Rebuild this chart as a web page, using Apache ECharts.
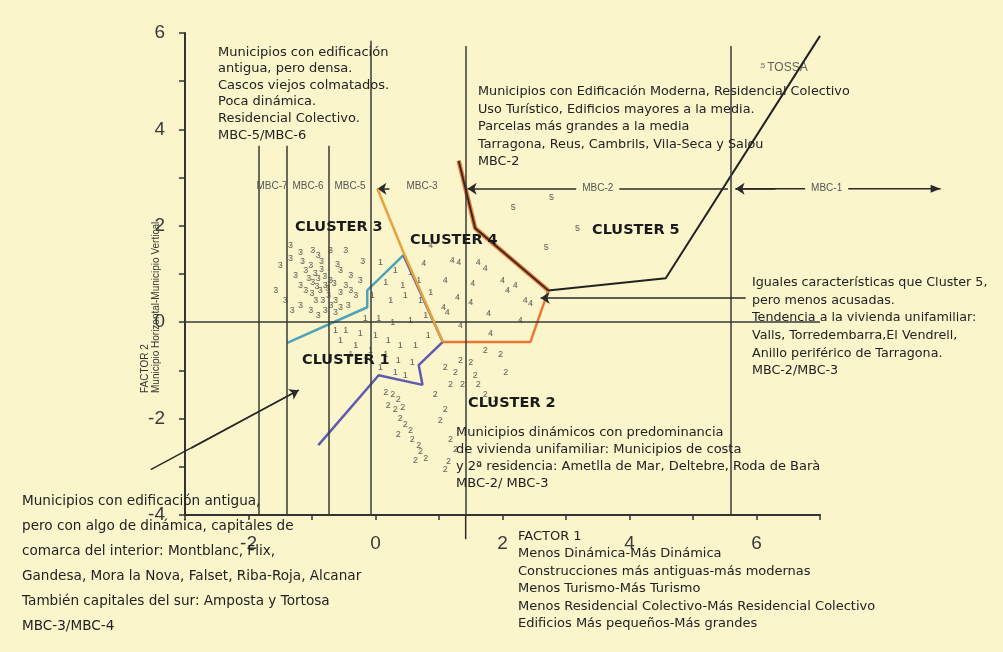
<!DOCTYPE html>
<html><head><meta charset="utf-8">
<script src="https://cdn.jsdelivr.net/npm/echarts@6/dist/echarts.min.js"></script>
<style>html,body{margin:0;padding:0;background:#FBF5CC}#c{width:1003px;height:652px}</style>
</head><body><div id="c"></div><script>
// ---------- data ----------
const xTickLabels = ['-2', '0', '2', '4', '6'];
const yTickLabels = ['-4', '-2', '0', '2', '4', '6'];

const cluster3Pts = [[-1.34,1.33],[-1.18,1.45],[-0.99,1.49],[-0.90,1.39],[-0.71,1.49],[-0.47,1.49],[-1.26,0.97],[-1.10,1.08],[-1.02,1.18],[-1.18,0.77],[-1.10,0.66],[-0.99,0.83],[-0.90,0.91],[-0.87,0.66],[-0.79,0.77],[-0.71,0.87],[-0.94,0.46],[-0.83,0.46],[-0.74,0.56],[-0.63,0.46],[-0.55,0.62],[-0.47,0.77],[-0.39,0.66],[-0.31,0.56],[-1.42,0.46],[-1.31,0.25],[-1.18,0.35],[-1.02,0.25],[-0.90,0.14],[-0.79,0.25],[-0.63,0.21],[-0.43,0.35],[-0.55,1.08],[-0.39,0.97],[-0.24,0.87],[-1.34,1.59],[-1.50,1.18],[-1.57,0.66],[-0.95,1.0],[-0.85,1.1],[-0.8,0.95],[-1.05,0.9],[-0.92,0.75],[-0.75,0.7],[-1.0,0.6],[-0.65,0.8],[-0.6,1.2],[-0.2,1.25],[-0.85,1.25],[-1.15,1.25],[-0.7,0.35],[-0.55,0.3]];
const cluster1Pts = [[0.08,1.24],[0.31,1.08],[0.55,1.04],[0.16,0.83],[0.43,0.77],[0.68,0.87],[-0.05,0.56],[0.24,0.46],[0.47,0.56],[0.71,0.46],[0.87,0.62],[-0.16,0.08],[0.05,0.08],[0.27,0.0],[0.55,0.04],[0.79,0.14],[-0.47,-0.17],[-0.24,-0.23],[0.0,-0.27],[0.20,-0.37],[0.39,-0.48],[0.63,-0.48],[0.83,-0.27],[-0.31,-0.48],[-0.08,-0.58],[0.16,-0.68],[0.36,-0.79],[0.58,-0.83],[0.08,-0.95],[0.31,-1.04],[0.47,-1.10],[-0.55,-0.37],[-0.16,-0.79],[-0.39,-0.68],[-0.63,-0.17]];
const cluster2Pts = [[0.16,-1.45],[0.27,-1.51],[0.36,-1.61],[0.20,-1.72],[0.31,-1.82],[0.43,-1.78],[0.39,-1.99],[0.47,-2.13],[0.55,-2.24],[0.36,-2.34],[0.58,-2.44],[0.68,-2.55],[0.71,-2.69],[0.79,-2.82],[0.63,-2.86],[1.02,-2.03],[1.10,-1.82],[0.94,-1.51],[1.18,-1.30],[1.26,-1.04],[1.10,-0.95],[1.34,-0.79],[1.50,-0.83],[1.57,-1.10],[1.62,-1.30],[1.73,-0.58],[1.97,-0.68],[2.05,-1.04],[1.73,-1.51],[1.89,-1.61],[1.18,-2.44],[1.26,-2.65],[1.15,-2.90],[1.10,-3.06],[1.37,-1.30]];
const cluster4Pts = [[0.76,1.22],[1.21,1.28],[1.31,1.24],[1.62,1.24],[1.53,0.81],[1.29,0.52],[1.50,0.41],[1.07,0.31],[1.13,0.21],[1.78,0.19],[2.00,0.87],[2.08,0.66],[1.81,-0.23],[2.44,0.39],[1.73,1.12],[2.20,0.77],[2.36,0.46],[1.34,-0.06],[2.28,0.04],[0.87,1.59],[1.10,0.87]];
const cluster5Pts = [[2.17,2.38],[2.77,2.59],[3.18,1.95],[2.69,1.55]];
const tossaPt = [[6.06,5.28]];

const mbcLineX = [-1.84, -1.39, -0.74, -0.08, 1.42, 5.59];
const mbcLineTop = [3.66, 3.66, 3.66, 5.84, 5.73, 5.73];
const mbcLineBottom = [-4, -4, -4, -4, -4, -4];
const mbcLineExtraBottom = [[1.42, -4], [1.42, -4.5]];

const boundaryC3C4 = [[0.03,2.77],[0.44,1.45],[1.06,-0.41]];
const boundaryC3C1 = [[-1.39,-0.43],[-0.13,0.31],[-0.13,0.66],[0.44,1.39]];
const boundaryC1C2 = [[0.44,1.39],[1.06,-0.41],[0.68,-0.89],[0.74,-1.30],[0.05,-1.10],[-0.90,-2.55]];
const boundaryC4C2 = [[1.06,-0.41],[2.44,-0.41],[2.68,0.50],[2.72,0.66]];
const boundaryC4C5 = [[1.31,3.35],[1.57,1.95],[2.72,0.66]];
const boundaryC5 = [[2.72,0.66],[4.57,0.91],[7.0,5.94]];

// arrows: shaft (may leave the plot) and head segment (inside the plot)
const arrowLeftNoteShaft = [[-3.54,-3.06],[-1.21,-1.41]];
const arrowLeftNoteHead = [[-2.9,-2.61],[-1.21,-1.41]];
const arrowRightNote = [[5.83,0.50],[2.60,0.50]];
const arrowMBC2 = [[5.55,2.77],[1.45,2.77]];
const arrowMBC1Shaft = [[5.67,2.77],[8.9,2.77]];
const arrowMBC1Head = [[6.3,2.77],[5.67,2.77]];
const arrowMBC3 = [[0.22,2.77],[0.03,2.77]];

const noteTopLeft = 'Municipios con edificación\nantigua, pero densa.\nCascos viejos colmatados.\nPoca dinámica.\nResidencial Colectivo.\nMBC-5/MBC-6';
const noteTopRight = 'Municipios con Edificación Moderna, Residencial Colectivo\nUso Turístico, Edificios mayores a la media.\nParcelas más grandes a la media\nTarragona, Reus, Cambrils, Vila-Seca y Salou\nMBC-2';
const noteRight = 'Iguales características que Cluster 5,\npero menos acusadas.\nTendencia a la vivienda unifamiliar:\nValls, Torredembarra,El Vendrell,\nAnillo periférico de Tarragona.\nMBC-2/MBC-3';
const noteBottomLeft = 'Municipios con edificación antigua,\npero con algo de dinámica, capitales de\ncomarca del interior: Montblanc, Flix,\nGandesa, Mora la Nova, Falset, Riba-Roja, Alcanar\nTambién capitales del sur: Amposta y Tortosa\nMBC-3/MBC-4';
const noteCluster2 = 'Municipios dinámicos con predominancia\nde vivienda unifamiliar: Municipios de costa\ny 2ª residencia: Ametlla de Mar, Deltebre, Roda de Barà\nMBC-2/ MBC-3';
const noteFactor1 = 'FACTOR 1\nMenos Dinámica-Más Dinámica\nConstrucciones más antiguas-más modernas\nMenos Turismo-Más Turismo\nMenos Residencial Colectivo-Más Residencial Colectivo\nEdificios Más pequeños-Más grandes';

// ---------- chart ----------
const chart = echarts.init(document.getElementById('c'), null, {renderer: 'canvas'});
const TXT = '#222';
const FONT = '"Liberation Sans", Arial, sans-serif';
const NOTEFONT = '"DejaVu Sans", sans-serif';
const BG = '#FBF5CC';
const INK = '#2a2a2a';

function ptsSeries(pts, label) {
  return {
    type: 'scatter', data: pts, symbolSize: 1, z: 3,
    itemStyle: {color: '#444'},
    label: {show: true, position: 'inside', formatter: label, fontSize: 9, color: '#3c3c3c', fontFamily: FONT},
    silent: true
  };
}
function poly(pts, color, width, z) {
  return {type: 'line', data: pts, showSymbol: false, clip: false, z: z || 4,
    lineStyle: {color: color, width: width}, silent: true, animation: false};
}
function arrow(pts, both) {
  return [{coord: pts[0], symbol: both ? 'arrow' : 'none'}, {coord: pts[1], symbol: 'arrow'}];
}

const vLines = mbcLineX.map((x, i) => [{coord: [x, mbcLineTop[i]]}, {coord: [x, mbcLineBottom[i]]}]);

function txt(x, y, text, opts) {
  return Object.assign({type: 'text', x: x, y: y, silent: true, z: 10,
    style: Object.assign({text: text, fill: TXT, font: '13px ' + NOTEFONT, lineHeight: 17, verticalAlign: 'top', align: 'left'}, opts || {})});
}
const CL = {font: 'bold 14.5px "DejaVu Sans", sans-serif', fill: '#1a1a1a'};
const MB = {font: '10px ' + FONT, fill: '#555', align: 'center', verticalAlign: 'middle'};

const option = {
  backgroundColor: BG,
  animation: false,
  grid: {left: 185, right: 183, top: 33, bottom: 137},
  xAxis: {
    type: 'value', min: -3, max: 7, interval: 1,
    axisLine: {onZero: false, lineStyle: {color: '#333', width: 2}},
    axisTick: {show: true, length: 5, lineStyle: {color: '#333', width: 1.5}},
    axisLabel: {formatter: v => xTickLabels.includes(String(v)) ? String(v) : '', fontSize: 19, color: '#3a3a3a', margin: 19, fontFamily: FONT},
    splitLine: {show: false}
  },
  yAxis: {
    type: 'value', min: -4, max: 6, interval: 1,
    axisLine: {onZero: false, lineStyle: {color: '#333', width: 2}},
    axisTick: {show: true, length: 6, lineStyle: {color: '#333', width: 1.5}},
    axisLabel: {formatter: v => yTickLabels.includes(String(v)) ? String(v) : '', fontSize: 19, color: '#3a3a3a', margin: 20, fontFamily: FONT},
    splitLine: {show: false}
  },
  series: [
    {
      type: 'line', data: [], silent: true,
      markLine: {
        silent: true, symbol: 'none', animation: false,
        label: {show: false},
        lineStyle: {color: '#3a3a3a', width: 1.5, type: 'solid'},
        data: vLines.concat([[{coord: [-3, 0]}, {coord: [7, 0]}]])
      }
    },
    {
      type: 'line', data: [], silent: true,
      markLine: {
        silent: true, animation: false, symbolSize: 9,
        label: {show: false},
        lineStyle: {color: INK, width: 1.5, type: 'solid'},
        data: [arrow(arrowLeftNoteHead), arrow(arrowRightNote), arrow(arrowMBC2), arrow(arrowMBC1Head), arrow(arrowMBC3)]
      }
    },
    poly(boundaryC3C1, '#4FA3B8', 2.5),
    poly(boundaryC1C2, '#5E5CB0', 2.5),
    poly(boundaryC3C4, '#E8A23A', 2.5, 5),
    poly(boundaryC4C2, '#EE7633', 2.5),
    poly(boundaryC4C5, '#EE7633', 4.5),
    poly(boundaryC4C5, INK, 1.8, 6),
    poly(boundaryC5, '#222', 2),
    ptsSeries(cluster3Pts, '3'),
    ptsSeries(cluster1Pts, '1'),
    ptsSeries(cluster2Pts, '2'),
    ptsSeries(cluster4Pts, '4'),
    ptsSeries(cluster5Pts, '5'),
    {
      type: 'scatter', data: tossaPt, symbolSize: 1, silent: true,
      label: {show: true, position: 'right', distance: 0, formatter: '{a|5}{b|TOSSA}',
        rich: {a: {fontSize: 8, color: '#444', fontFamily: FONT, padding: [0, 2, 4, 0]}, b: {fontSize: 12, color: '#3a3a3a', fontFamily: FONT}}}
    }
  ],
  graphic: {elements: [
    txt(218, 44, noteTopLeft, {lineHeight: 16.6}),
    txt(478, 83, noteTopRight, {lineHeight: 17.5, font: '12.8px ' + NOTEFONT}),
    txt(752, 274, noteRight, {lineHeight: 17.6, font: '12.7px ' + NOTEFONT}),
    txt(22, 489, noteBottomLeft, {lineHeight: 25, font: '13.6px ' + NOTEFONT}),
    txt(456, 424, noteCluster2, {lineHeight: 17}),
    txt(518, 528, noteFactor1, {lineHeight: 17.4}),
    // cluster labels
    txt(295, 219, 'CLUSTER 3', CL),
    txt(410, 232, 'CLUSTER 4', CL),
    txt(592, 222, 'CLUSTER 5', CL),
    txt(302, 352, 'CLUSTER 1', CL),
    txt(468, 395, 'CLUSTER 2', CL),
    // MBC labels
    txt(272, 186, 'MBC-7', MB),
    txt(308, 186, 'MBC-6', MB),
    txt(350, 186, 'MBC-5', MB),
    txt(422, 186, 'MBC-3', MB),
    // y axis name (rotated)
    {type: 'text', x: 145, y: 393, rotation: Math.PI / 2, silent: true,
      style: {text: 'FACTOR 2', fill: '#333', font: '10px ' + FONT, align: 'left', verticalAlign: 'middle'}},
    {type: 'text', x: 156, y: 393, rotation: Math.PI / 2, silent: true,
      style: {text: 'Municipio Horizontal-Municipio Vertical', fill: '#333', font: '10px ' + FONT, align: 'left', verticalAlign: 'middle'}}
  ]}
};
chart.setOption(option);

// Segments that leave the plot area: placed through the chart's own scales.
const toPx = pt => chart.convertToPixel({gridIndex: 0}, pt);
function segLine(id, a, b) {
  const p = toPx(a), q = toPx(b);
  return {id: id, type: 'line', silent: true, z: 4,
    shape: {x1: p[0], y1: p[1], x2: q[0], y2: q[1]}, style: {stroke: INK, lineWidth: 1.5}};
}
const headEnd = toPx(arrowMBC1Shaft[1]);
const mbc1Lbl = toPx([(arrowMBC1Shaft[0][0] + arrowMBC1Shaft[1][0]) / 2 - 0.18, arrowMBC1Shaft[0][1]]);
const mbc2Lbl = toPx([(arrowMBC2[0][0] + arrowMBC2[1][0]) / 2, arrowMBC2[0][1]]);
chart.setOption({graphic: {elements: [
  segLine('shaftLeft', arrowLeftNoteShaft[0], arrowLeftNoteShaft[1]),
  segLine('shaftMBC1', arrowMBC1Shaft[0], arrowMBC1Shaft[1]),
  segLine('vExtra', mbcLineExtraBottom[0], mbcLineExtraBottom[1]),
  {id: 'headMBC1', type: 'polygon', silent: true, z: 4,
    shape: {points: [[headEnd[0], headEnd[1]], [headEnd[0] - 10, headEnd[1] - 4], [headEnd[0] - 10, headEnd[1] + 4]]},
    style: {fill: INK}},
  Object.assign(txt(mbc2Lbl[0], mbc2Lbl[1], 'MBC-2', Object.assign({}, MB, {backgroundColor: BG, padding: [0, 6]})), {id: 'lblMBC2', z: 11}),
  Object.assign(txt(mbc1Lbl[0], mbc1Lbl[1], 'MBC-1', Object.assign({}, MB, {backgroundColor: BG, padding: [0, 6]})), {id: 'lblMBC1', z: 11})
]}});
</script></body></html>
